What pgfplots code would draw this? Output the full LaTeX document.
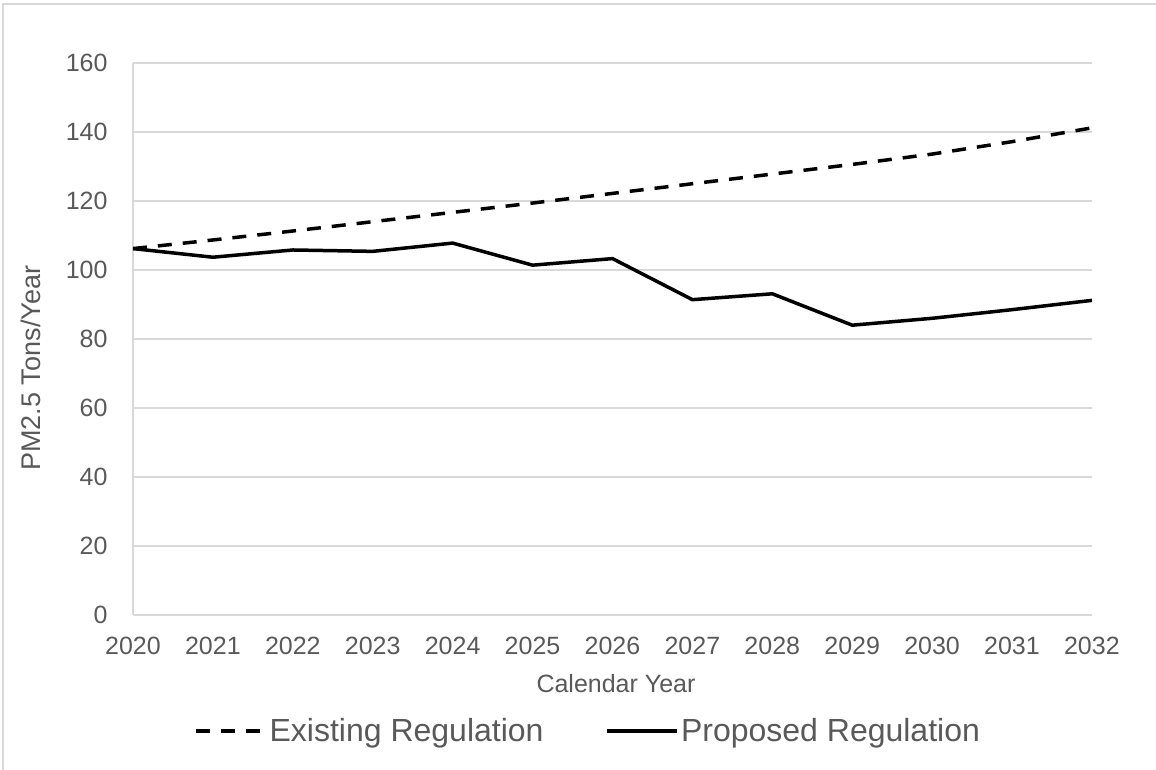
\documentclass[border=0pt]{standalone}
\usepackage{pgfplots}
\pgfplotsset{compat=1.18}
\usepackage{fontspec}
\setmainfont{Liberation Sans}
\definecolor{txt}{HTML}{595959}
\definecolor{grd}{HTML}{D9D9D9}
\begin{document}
\begin{tikzpicture}[x=1pt,y=1pt]
\path[use as bounding box] (0,0) rectangle (1156,770);
\draw[grd, line width=1.2pt] (3,0) -- (3,766) -- (1156,766);
\begin{axis}[
  at={(133pt,155pt)}, anchor=south west,
  scale only axis, width=959pt, height=552pt,
  xmin=2020, xmax=2032, ymin=0, ymax=160,
  xtick={2020,...,2032}, ytick={0,20,...,160},
  axis x line*=bottom, axis y line*=left,
  axis line style={grd, line width=1.5pt, -},
  ymajorgrids, grid style={grd, line width=1.5pt},
  major tick length=0pt,
  tick label style={font=\fontsize{25}{30}\selectfont, text=txt},
  /pgf/number format/assume math mode=true,
  /pgf/number format/set thousands separator={},
  xticklabel style={yshift=-19pt},
  yticklabel style={xshift=-22pt},
  xlabel={Calendar Year},
  ylabel={PM2.5 Tons/Year},
  xlabel style={font=\fontsize{25}{30}\selectfont, text=txt, at={(axis description cs:0.5036,-0.125)}, anchor=center},
  ylabel style={font=\fontsize{27}{30}\selectfont, text=txt, at={(axis description cs:-0.1064,0.447)}, anchor=center},
  legend columns=2,
  legend style={draw=none, fill=none, at={(axis description cs:0.4745,-0.210)}, anchor=center,
    font=\fontsize{32}{36}\selectfont, text=txt,
    /tikz/every even column/.append style={column sep=60pt}},
  legend image code/.code={\draw[#1] (0pt,0pt) -- (70pt,0pt);},
  clip=false,
]
\addplot[black, line width=3.5pt, dash pattern=on 14pt off 11pt] coordinates {
(2020,106.2) (2021,108.7) (2022,111.3) (2023,114.0) (2024,116.7) (2025,119.4)
(2026,122.2) (2027,125.0) (2028,127.8) (2029,130.6) (2030,133.6) (2031,137.2) (2032,141.2)};
\addlegendentry{Existing Regulation}
\addplot[black, line width=3.5pt] coordinates {
(2020,106.2) (2021,103.7) (2022,105.8) (2023,105.4) (2024,107.8) (2025,101.4)
(2026,103.3) (2027,91.4) (2028,93.1) (2029,84.0) (2030,86.0) (2031,88.5) (2032,91.2)};
\addlegendentry{Proposed Regulation}
\end{axis}
\end{tikzpicture}
\end{document}
